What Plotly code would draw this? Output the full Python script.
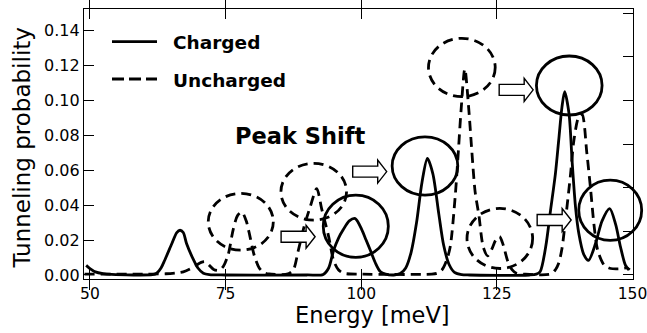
import plotly.graph_objects as go

# ---------------- data ----------------
charged_energy = [49.3, 50, 51, 52.4, 54, 58, 61.5, 62.3, 63.1, 63.8, 65.1, 66.0, 66.6, 67.2, 67.8,
                  69.1, 69.9, 70.9, 72, 75, 90, 93, 94, 94.9, 95.8, 96.7, 97.8, 98.9, 100.1, 100.9,
                  101.7, 102.6, 103.5, 104.5, 106, 107.2, 108.2, 109.2, 110.2, 111.2, 112.2, 113.2,
                  114.3, 115.2, 116.2, 117.2, 118.5, 120, 131, 132.3, 133, 134, 134.9, 135.8, 136.4,
                  137, 137.5, 138.3, 138.9, 139.5, 140.1, 141, 141.9, 143.2, 144.4, 145.8, 146.9,
                  147.8, 148.7, 149.3]
charged_prob = [0.0055, 0.0037, 0.0018, 0.0008, 0.0003, 0.0, 0.0002, 0.001, 0.004, 0.0086, 0.018,
                0.0243, 0.0256, 0.0243, 0.018, 0.0086, 0.004, 0.001, 0.0002, 0.0, 0.0, 0.0003, 0.004,
                0.014, 0.021, 0.026, 0.031, 0.0323, 0.026, 0.020, 0.014, 0.007, 0.002, 0.0005, 0.0,
                0.0008, 0.004, 0.013, 0.030, 0.053, 0.0667, 0.058, 0.035, 0.017, 0.006, 0.0015,
                0.0002, 0.0, 0.0, 0.0005, 0.002, 0.016, 0.037, 0.058, 0.077, 0.096, 0.105, 0.0925,
                0.064, 0.039, 0.024, 0.012, 0.0084, 0.018, 0.031, 0.038, 0.029, 0.016, 0.0056, 0.003]

uncharged_energy = [49, 60, 64, 66, 67.2, 68.5, 69.7, 70.5, 71.2, 72, 72.8, 73.8, 74.6, 75.5, 76.4,
                    77.2, 78, 78.8, 79.5, 80.3, 81.2, 82, 83, 86.5, 87.5, 88.4, 89.5, 90.6, 91.8,
                    92.7, 94, 94.9, 95.8, 96.8, 100, 113, 114, 114.9, 115.7, 116.4, 117.3, 117.9,
                    118.4, 119.1, 119.8, 120.4, 121, 121.7, 122.5, 123.3, 124.1, 124.8, 125.5, 126.2,
                    127, 127.8, 128.6, 130, 135, 135.8, 136.4, 137, 137.6, 138.6, 139.2, 140.1, 140.7,
                    141.6, 142.3, 142.9, 143.6, 144.8, 146, 147.5, 149, 149.5]
uncharged_prob = [0.0005, 0.0005, 0.0007, 0.0012, 0.0018, 0.0035, 0.0058, 0.0072, 0.0076, 0.0055,
                  0.0032, 0.0027, 0.005, 0.012, 0.026, 0.034, 0.036, 0.031, 0.022, 0.011, 0.004,
                  0.0015, 0.0006, 0.0006, 0.003, 0.014, 0.028, 0.039, 0.0495, 0.038, 0.022, 0.0084,
                  0.003, 0.001, 0.0005, 0.0005, 0.001, 0.003, 0.008, 0.016, 0.044, 0.0705, 0.094,
                  0.118, 0.096, 0.0705, 0.0476, 0.034, 0.016, 0.011, 0.015, 0.020, 0.022, 0.017,
                  0.008, 0.003, 0.001, 0.0005, 0.0006, 0.003, 0.0067, 0.015, 0.030, 0.058, 0.077,
                  0.0906, 0.092, 0.0696, 0.0486, 0.029, 0.014, 0.0056, 0.0037, 0.0035, 0.004, 0.003]

x_ticks = [50, 75, 100, 125, 150]
y_ticks = [0.00, 0.02, 0.04, 0.06, 0.08, 0.10, 0.12, 0.14]
y_right_ticks = [0.0, 0.025, 0.05, 0.075, 0.10, 0.125, 0.15]

legend_labels = ["Charged", "Uncharged"]
x_title = "Energy [meV]"
y_title = "Tunneling probability"
note_text = "Peak Shift"

# ---------------- layout constants ----------------
W, H = 647, 333
ML, MR, MT, MB = 84, 14, 9, 54
X_RANGE = [48.9, 150.1]
Y_RANGE = [-0.0023, 0.1523]
FONT = "DejaVu Sans"
DASH = "10px,6px"
LW = 2.8

PW = W - ML - MR
PH = H - MT - MB


def dx(e):
    return (e - X_RANGE[0]) / (X_RANGE[1] - X_RANGE[0])


def dy(p):
    return (p - Y_RANGE[0]) / (Y_RANGE[1] - Y_RANGE[0])


def px(xp):
    return (xp - ML) / PW


def py(yp):
    return (MT + PH - yp) / PH


fig = go.Figure()
fig.add_trace(go.Scatter(x=charged_energy, y=charged_prob, mode="lines", name=legend_labels[0],
                         line=dict(color="black", width=LW, shape="spline", smoothing=0.8),
                         showlegend=False))
fig.add_trace(go.Scatter(x=uncharged_energy, y=uncharged_prob, mode="lines", name=legend_labels[1],
                         line=dict(color="black", width=LW, dash=DASH, shape="spline", smoothing=0.8),
                         showlegend=False))
fig.add_trace(go.Scatter(x=[None], y=[None], yaxis="y2", showlegend=False, hoverinfo="skip"))

shapes = []
# highlight ellipses: (x0, x1, y0, y1, dashed)
ellipses = [
    (71.8, 83.8, 0.0142, 0.0467, True),
    (85.2, 97.3, 0.0314, 0.0639, True),
    (93.0, 105.0, 0.0101, 0.0457, False),
    (105.7, 117.8, 0.0457, 0.0791, False),
    (112.4, 124.7, 0.1021, 0.1355, True),
    (119.5, 131.6, 0.0037, 0.0381, True),
    (132.3, 144.4, 0.0916, 0.1254, False),
    (140.1, 151.7, 0.0198, 0.0543, False),
]
for x0, x1, y0, y1, dashed in ellipses:
    shapes.append(dict(type="circle", xref="paper", yref="paper",
                       x0=dx(x0), x1=dx(x1), y0=dy(y0), y1=dy(y1),
                       line=dict(color="black", width=LW, dash=DASH if dashed else "solid"),
                       layer="above"))

# block arrows, tip position in data coordinates
arrow_tips = [(91.5, 0.0219), (104.7, 0.0592), (131.7, 0.106), (138.7, 0.0315)]
arrow_path = "M0,0 L-9,11.5 L-9,5.5 L-34,5.5 L-34,-5.5 L-9,-5.5 L-9,-11.5 Z"
for ex, ey in arrow_tips:
    shapes.append(dict(type="path", xref="x", yref="y", xsizemode="pixel", ysizemode="pixel",
                       xanchor=ex, yanchor=ey, path=arrow_path, fillcolor="white",
                       line=dict(color="black", width=1.4), layer="above"))

# legend samples
shapes.append(dict(type="line", xref="paper", yref="paper", x0=px(112), x1=px(157),
                   y0=py(41.7), y1=py(41.7), line=dict(color="black", width=LW)))
shapes.append(dict(type="line", xref="paper", yref="paper", x0=px(112), x1=px(157),
                   y0=py(79), y1=py(79), line=dict(color="black", width=LW, dash="12px,5px")))

annotations = [
    dict(text=legend_labels[0], xref="paper", yref="paper", x=px(171), y=py(42.5),
         xanchor="left", yanchor="middle", showarrow=False,
         font=dict(family=FONT, size=18.5, color="black", weight="bold")),
    dict(text=legend_labels[1], xref="paper", yref="paper", x=px(171), y=py(80),
         xanchor="left", yanchor="middle", showarrow=False,
         font=dict(family=FONT, size=18.5, color="black", weight="bold")),
    dict(text=note_text, xref="paper", yref="paper", x=px(300), y=py(136),
         xanchor="center", yanchor="middle", showarrow=False,
         font=dict(family=FONT, size=22.5, color="black", weight="bold")),
    dict(text=x_title, xref="paper", yref="paper", x=px(372.5), y=py(315),
         xanchor="center", yanchor="middle", showarrow=False,
         font=dict(family=FONT, size=22.5, color="black")),
    dict(text=y_title, xref="paper", yref="paper", x=px(21.5), y=py(148),
         xanchor="center", yanchor="middle", showarrow=False, textangle=-90,
         font=dict(family=FONT, size=23, color="black")),
]

axis_common = dict(showline=True, linecolor="black", linewidth=1.3, ticks="inside", ticklen=10,
                   tickwidth=1.3, tickcolor="black", showgrid=False, zeroline=False)

fig.update_layout(
    width=W, height=H,
    margin=dict(l=ML, r=MR, t=MT, b=MB, pad=0, autoexpand=False),
    paper_bgcolor="white", plot_bgcolor="white",
    showlegend=False,
    xaxis=dict(range=X_RANGE, tickvals=x_ticks, ticktext=[str(v) for v in x_ticks],
               mirror="allticks", automargin=False, ticklabeloverflow="allow",
               tickfont=dict(family=FONT, size=15.5, color="black"), **axis_common),
    yaxis=dict(range=Y_RANGE, tickvals=y_ticks, tickformat=".2f", mirror=False, automargin=False,
               tickfont=dict(family=FONT, size=16, color="black"), **axis_common),
    yaxis2=dict(range=Y_RANGE, tickvals=y_right_ticks, overlaying="y", side="right",
                showticklabels=False, automargin=False, **axis_common),
    shapes=shapes,
    annotations=annotations,
)

fig.write_html("out.html")
